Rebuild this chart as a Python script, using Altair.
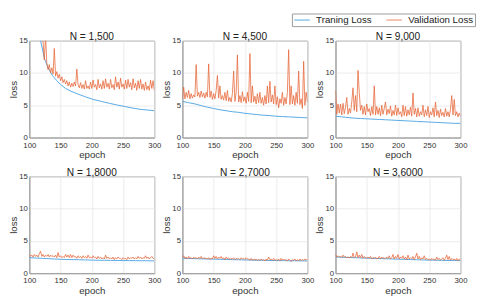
import altair as alt
import pandas as pd

TITLES = ["N = 1,500", "N = 4,500", "N = 9,000", "N = 1,8000", "N = 2,7000", "N = 3,6000"]
SERIES = ["Traning Loss", "Validation Loss"]

VAL_EPOCHS = list(range(100, 301, 2))
TR_EPOCHS = list(range(100, 301, 10))

tr1_epochs = [100, 106, 112, 118, 124, 130, 137, 144, 150, 158, 166, 176, 190, 202, 215, 228, 240, 253, 266, 279, 290, 300]
tr1 = [40, 26, 19, 15, 12.3, 10.8, 9.6, 8.8, 8.2, 7.6, 7.2, 6.8, 6.3, 5.9, 5.6, 5.3, 5.05, 4.8, 4.55, 4.35, 4.25, 4.15]

tr2 = [5.6, 5.4, 5.2, 4.95, 4.7, 4.5, 4.3, 4.15, 4.0, 3.9, 3.75, 3.65, 3.55, 3.45, 3.4, 3.3, 3.25, 3.2, 3.15, 3.1, 3.05]
tr3 = [3.3, 3.2, 3.1, 3.0, 2.95, 2.9, 2.85, 2.8, 2.75, 2.7, 2.65, 2.6, 2.55, 2.5, 2.45, 2.4, 2.35, 2.3, 2.25, 2.2, 2.2]
tr4 = [2.4, 2.35, 2.3, 2.25, 2.2, 2.15, 2.12, 2.1, 2.08, 2.05, 2.03, 2.0, 2.0, 1.98, 1.97, 1.96, 1.95, 1.94, 1.93, 1.92, 1.9]
tr5 = [2.3, 2.28, 2.25, 2.22, 2.2, 2.18, 2.15, 2.13, 2.1, 2.08, 2.05, 2.03, 2.0, 1.99, 1.97, 1.96, 1.95, 1.93, 1.92, 1.91, 1.9]
tr6 = [2.5, 2.47, 2.44, 2.4, 2.37, 2.33, 2.3, 2.27, 2.24, 2.2, 2.17, 2.14, 2.11, 2.08, 2.05, 2.03, 2.01, 1.99, 1.97, 1.96, 1.95]

va1 = [40, 35, 30, 27, 24, 22, 20, 18, 17, 16, 15.5, 14.8, 12, 15.8, 11.5, 10.5, 11.3, 10, 10.8, 9.8,
       13.8, 9.5, 10.2, 9.2, 9.8, 8.8, 9.4, 8.5, 9.0, 8.3, 8.8, 8.0, 8.6, 7.8, 8.4, 7.9, 8.6, 8.0, 10.6, 8.2,
       7.7, 8.5, 7.6, 8.2, 7.5, 8.8, 7.6, 8.0, 7.5, 8.6, 7.6, 8.9, 7.8, 8.2, 7.4, 9.0, 7.7, 8.3, 7.5, 8.8,
       7.6, 9.1, 7.8, 8.4, 7.5, 9.0, 7.7, 8.2, 7.4, 9.4, 7.8, 8.6, 7.5, 9.2, 7.8, 8.3, 7.5, 8.9, 7.6, 9.0,
       7.8, 8.5, 7.4, 9.1, 7.7, 8.4, 7.3, 8.8, 7.6, 9.0, 7.5, 8.3, 7.3, 8.6, 7.4, 8.0, 7.3, 8.9, 7.6, 8.8,
       7.3]
va2 = [6.0, 7.8, 6.0, 7.0, 6.2, 7.3, 6.0, 6.8, 6.1, 6.6, 6.3, 11.3, 6.4, 7.0, 6.2, 7.2, 6.3, 6.9, 6.1, 7.0,
       6.3, 11.4, 6.2, 7.2, 5.9, 6.8, 6.0, 7.3, 9.6, 6.1, 8.0, 5.9, 6.5, 5.8, 7.0, 5.7, 7.3, 5.6, 6.2, 5.5,
       6.8, 10.3, 5.6, 7.0, 12.8, 5.5, 6.5, 5.4, 7.1, 5.6, 6.3, 5.3, 7.0, 5.6, 13.0, 5.4, 8.0, 5.5, 6.4, 5.2,
       6.8, 5.4, 7.0, 5.3, 6.2, 5.0, 6.5, 5.2, 8.0, 5.4, 8.7, 5.5, 6.6, 5.2, 8.0, 5.1, 6.3, 4.6, 6.0, 5.3,
       7.0, 5.0, 6.2, 5.2, 7.0, 13.6, 5.1, 8.0, 5.2, 6.5, 5.0, 7.0, 5.3, 10.3, 5.1, 6.0, 4.5, 11.8, 5.0, 7.0,
       5.5]
va3 = [7.3, 3.6, 5.2, 3.8, 5.2, 3.5, 5.3, 3.7, 4.7, 6.2, 3.6, 4.5, 3.8, 5.5, 7.7, 4.2, 6.5, 4.0, 10.4, 7.0,
       4.2, 5.0, 3.6, 4.8, 3.5, 5.2, 4.0, 4.5, 3.4, 4.8, 3.6, 8.0, 3.5, 4.8, 3.6, 4.6, 3.4, 5.0, 3.6, 4.5,
       5.5, 3.5, 4.4, 3.7, 4.9, 3.3, 4.2, 3.5, 5.0, 3.4, 4.6, 3.6, 4.0, 3.2, 5.0, 3.4, 4.8, 3.3, 4.3, 3.5,
       4.7, 3.3, 6.9, 3.6, 4.5, 3.2, 4.6, 3.3, 4.0, 3.5, 5.0, 3.2, 4.3, 3.4, 4.8, 3.1, 4.0, 3.5, 4.6, 3.2,
       5.5, 3.4, 4.2, 3.1, 4.4, 3.4, 3.9, 3.2, 4.5, 3.3, 4.0, 3.2, 4.4, 6.5, 3.5, 5.9, 3.4, 4.0, 3.2, 3.8,
       3.3]
va4 = [2.9, 2.6, 2.8, 2.5, 2.9, 2.6, 2.8, 2.5, 3.0, 3.4, 2.6, 2.9, 2.5, 2.8, 2.6, 2.9, 2.5, 2.8, 2.6, 2.7,
       2.5, 2.8, 2.4, 3.2, 2.5, 2.7, 2.4, 2.6, 2.4, 2.9, 2.5, 2.8, 2.4, 2.9, 2.4, 2.8, 2.5, 2.6, 2.3, 2.7,
       2.4, 2.6, 2.3, 2.7, 2.4, 2.6, 2.3, 2.8, 2.4, 2.5, 2.3, 2.7, 2.4, 2.5, 2.2, 2.6, 2.3, 2.5, 2.2, 2.4,
       2.2, 2.8, 2.3, 2.5, 2.2, 2.4, 2.2, 2.5, 2.1, 2.4, 2.2, 2.5, 2.3, 2.3, 2.1, 2.4, 2.2, 2.3, 2.1, 2.5,
       2.2, 2.4, 2.3, 2.5, 2.2, 2.4, 2.2, 2.6, 2.3, 2.5, 2.2, 2.4, 2.3, 2.7, 2.3, 2.5, 2.2, 2.4, 2.6, 2.3,
       2.2]
va5 = [2.4, 2.7, 2.3, 2.5, 2.2, 2.6, 2.3, 2.4, 2.2, 2.5, 2.3, 2.4, 2.2, 2.5, 2.3, 2.6, 2.2, 2.4, 2.3, 2.3,
       2.2, 2.4, 2.1, 2.3, 2.2, 2.7, 2.3, 2.6, 2.2, 2.5, 2.3, 2.6, 2.2, 2.4, 2.1, 2.5, 2.2, 2.4, 2.1, 2.3,
       2.2, 2.4, 2.1, 2.3, 2.2, 2.3, 2.1, 2.4, 2.2, 2.3, 2.1, 2.4, 2.2, 2.2, 2.0, 2.3, 2.0, 2.2, 2.0, 2.2,
       2.0, 2.1, 2.0, 2.2, 2.0, 2.1, 1.9, 2.2, 2.0, 2.5, 2.1, 2.2, 2.0, 2.3, 2.0, 2.1, 2.0, 2.2, 1.9, 2.3,
       2.0, 2.2, 2.0, 2.1, 1.9, 2.2, 2.0, 1.8, 2.1, 2.0, 2.2, 1.9, 2.1, 1.9, 2.2, 2.0, 2.1, 2.0, 2.2, 2.0,
       2.2]
va6 = [2.9, 2.5, 2.7, 2.5, 2.6, 2.4, 2.8, 2.5, 2.6, 2.4, 2.5, 2.4, 2.6, 2.4, 3.1, 2.4, 2.5, 3.3, 2.4, 2.8,
       2.4, 2.9, 2.3, 2.6, 2.4, 2.3, 2.5, 2.3, 2.6, 2.2, 2.4, 2.3, 2.5, 2.2, 2.3, 2.6, 2.2, 2.5, 2.3, 2.4,
       2.2, 2.5, 2.3, 2.7, 2.2, 2.4, 2.9, 2.2, 2.6, 2.3, 2.9, 2.2, 2.5, 2.3, 2.7, 2.2, 2.5, 2.1, 2.8, 2.2,
       2.4, 2.2, 2.6, 2.1, 2.5, 3.1, 2.2, 2.6, 2.1, 2.4, 2.2, 2.7, 2.1, 2.3, 2.1, 2.2, 2.0, 2.3, 2.1, 2.2,
       2.0, 2.5, 2.1, 2.3, 2.0, 2.2, 2.4, 2.0, 2.3, 2.8, 2.1, 2.6, 2.0, 2.3, 2.1, 2.2, 2.0, 2.3, 1.9, 2.2,
       2.1]

TRAIN = [(tr1_epochs, tr1), (TR_EPOCHS, tr2), (TR_EPOCHS, tr3), (TR_EPOCHS, tr4), (TR_EPOCHS, tr5), (TR_EPOCHS, tr6)]
VALID = [va1, va2, va3, va4, va5, va6]

BLUE = "#55a8e3"
ORANGE = "#e6683a"
FONT = "Liberation Sans"


def panel(i):
    ep_t, tr = TRAIN[i]
    rows = [{"epoch": e, "loss": v, "series": SERIES[0]} for e, v in zip(ep_t, tr)]
    rows += [{"epoch": e, "loss": v, "series": SERIES[1]} for e, v in zip(VAL_EPOCHS, VALID[i])]
    df = pd.DataFrame(rows)
    return alt.Chart(df).mark_line(clip=True).encode(
        x=alt.X("epoch:Q", scale=alt.Scale(domain=[100, 300], nice=False),
                axis=alt.Axis(values=[100, 150, 200, 250, 300], title="epoch")),
        y=alt.Y("loss:Q", scale=alt.Scale(domain=[0, 15], nice=False),
                axis=alt.Axis(values=[0, 5, 10, 15], title="loss")),
        color=alt.Color("series:N", scale=alt.Scale(domain=SERIES, range=[BLUE, ORANGE]),
                        legend=alt.Legend(title=None)),
        strokeWidth=alt.StrokeWidth("series:N", scale=alt.Scale(domain=SERIES, range=[1.0, 0.8]), legend=None),
    ).properties(width=129, height=100, title=TITLES[i])


chart = alt.concat(
    *[panel(i) for i in range(6)],
    columns=3,
    spacing=alt.RowColnumber(row=40, column=29),
    bounds="flush",
).properties(
    padding=0
).configure(
    font=FONT
).configure_view(
    stroke="#9a9a9a", strokeWidth=1
).configure_axis(
    labelFont=FONT, titleFont=FONT, labelFontSize=8, titleFontSize=10,
    labelColor="#333333", titleColor="#333333", titleFontWeight="normal",
    ticks=False, domainColor="#9a9a9a", gridColor="#e6e6e6", gridWidth=0.8,
    labelFlush=False
).configure_axisX(
    titlePadding=1, labelPadding=4
).configure_axisY(
    titlePadding=0, labelPadding=2
).configure_title(
    font=FONT, fontSize=10.5, fontWeight="normal", color="#222222", offset=-6, frame="group"
).configure_legend(
    orient="none", legendX=271, legendY=-28, direction="horizontal",
    symbolType="M-1.6,0H1.6", symbolSize=100, symbolStrokeWidth=1, symbolOffset=4,
    labelFont=FONT, labelFontSize=10, labelColor="#222222", labelOffset=9,
    columnPadding=12, padding=1, strokeColor="#9a9a9a", fillColor="white"
)

chart.save("out.html", embed_options={"renderer": "svg", "actions": False})
